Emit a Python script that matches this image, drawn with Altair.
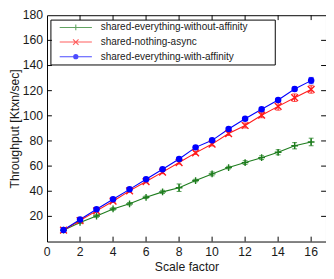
import altair as alt
import pandas as pd

series = ["shared-everything-without-affinity", "shared-nothing-async", "shared-everything-with-affinity"]
colors = ["#1e7d1e", "#ff1a1a", "#0000ff"]
scale_factor = list(range(1, 17))
without_affinity = [9, 15.2, 20.3, 25.9, 30, 35.2, 39.5, 42.8, 48.5, 53.8, 58.8, 62.8, 66.7, 71, 76.2, 79.2]
without_affinity_err = [0.5, 0.8, 1, 1, 1, 1, 1.2, 3, 1, 1.5, 1, 1.5, 1.5, 2, 2.5, 3]
nothing_async = [9, 16.7, 24.4, 32.1, 40.3, 47.7, 55.2, 62.8, 70.5, 77.5, 85.9, 92.3, 100.5, 107.5, 114.4, 121]
nothing_async_err = [1, 1, 1, 1, 1, 1, 1.2, 1.2, 1.2, 1.5, 1.5, 2, 2, 3, 3, 3]
with_affinity = [9.2, 17.5, 25.7, 33.6, 41.5, 49.5, 57.5, 65.7, 74.9, 80.5, 89.5, 97.7, 105.2, 112.6, 121.3, 128]
with_affinity_err = [0.8, 1, 1, 1, 1, 1, 1, 1, 1, 1, 1, 1, 1, 1.2, 1.5, 2.5]
x_ticks = [0, 2, 4, 6, 8, 10, 12, 14, 16]
y_ticks = [20, 40, 60, 80, 100, 120, 140, 160, 180]

rows = []
for name, vals, errs in [(series[0], without_affinity, without_affinity_err),
                         (series[1], nothing_async, nothing_async_err),
                         (series[2], with_affinity, with_affinity_err)]:
    for i, (v, e) in enumerate(zip(vals, errs)):
        rows.append({"series": name, "x": scale_factor[i], "y": v, "lo": v - e, "hi": v + e})
df = pd.DataFrame(rows)

W, H = 286, 232
FONT = "Liberation Sans"
TXT = "#1a1a1a"
FS = 12.5

xs = alt.Scale(domain=[0, 16.9], nice=False, zero=False)
ys = alt.Scale(domain=[0, 180], nice=False, zero=False)
X = alt.X("x:Q", scale=xs,
          axis=alt.Axis(title="Scale factor", labels=False, titlePadding=20))
Y = alt.Y("y:Q", scale=ys,
          axis=alt.Axis(title="Throughput [Ktxn/sec]", labels=False, titlePadding=26))

stroke_scale = alt.Scale(domain=series, range=colors)
base = alt.Chart(df)

line = base.mark_line(strokeWidth=1.1).encode(
    x=X, y=Y, stroke=alt.Stroke("series:N", scale=stroke_scale, legend=None),
    order="x:Q")
err = base.mark_rule(strokeWidth=1.1).encode(
    x=alt.X("x:Q", scale=xs), y=alt.Y("lo:Q", scale=ys), y2="hi:Q",
    stroke=alt.Stroke("series:N", scale=stroke_scale, legend=None))
cap_lo = base.mark_tick(orient="horizontal", size=5, thickness=1.1).encode(
    x=alt.X("x:Q", scale=xs), y=alt.Y("lo:Q", scale=ys),
    color=alt.Color("series:N", scale=stroke_scale, legend=None))
cap_hi = base.mark_tick(orient="horizontal", size=5, thickness=1.1).encode(
    x=alt.X("x:Q", scale=xs), y=alt.Y("hi:Q", scale=ys),
    color=alt.Color("series:N", scale=stroke_scale, legend=None))

PLUS = "M-1,0L1,0M0,-1L0,1"
CROSS = "M-1,-1L1,1M-1,1L1,-1"
marks = base.transform_filter(alt.datum.series != series[2]).mark_point(
    filled=False, strokeWidth=1.4, size=48, opacity=1).encode(
    x=alt.X("x:Q", scale=xs), y=alt.Y("y:Q", scale=ys),
    stroke=alt.Stroke("series:N", scale=stroke_scale, legend=None),
    shape=alt.Shape("series:N", scale=alt.Scale(domain=series[:2], range=[PLUS, CROSS]), legend=None))
dots = base.transform_filter(alt.datum.series == series[2]).mark_circle(size=44, opacity=1).encode(
    x=alt.X("x:Q", scale=xs), y=alt.Y("y:Q", scale=ys),
    color=alt.Color("series:N", scale=stroke_scale, legend=None))

# tick marks (inward, mirrored) and tick labels
ty = pd.DataFrame({"y": y_ticks})
tx = pd.DataFrame({"x": x_ticks})
ty_in = pd.DataFrame({"y": y_ticks[:-1]})
tx_in = pd.DataFrame({"x": x_ticks[1:]})
tick_l = alt.Chart(ty_in).mark_rule(color="black", strokeWidth=1).encode(
    y=alt.Y("y:Q", scale=ys), x=alt.value(0), x2=alt.value(5))
tick_r = alt.Chart(ty_in).mark_rule(color="black", strokeWidth=1).encode(
    y=alt.Y("y:Q", scale=ys), x=alt.value(W - 5), x2=alt.value(W))
tick_b = alt.Chart(tx_in).mark_rule(color="black", strokeWidth=1).encode(
    x=alt.X("x:Q", scale=xs), y=alt.value(H - 5), y2=alt.value(H))
tick_t = alt.Chart(tx_in).mark_rule(color="black", strokeWidth=1).encode(
    x=alt.X("x:Q", scale=xs), y=alt.value(0), y2=alt.value(5))
lab_x = alt.Chart(tx).mark_text(baseline="top", align="center", font=FONT, fontSize=FS,
                                color=TXT).encode(
    x=alt.X("x:Q", scale=xs), y=alt.value(H + 5), text=alt.Text("x:Q"))
lab_y = alt.Chart(ty).mark_text(baseline="middle", align="right", font=FONT, fontSize=FS,
                                color=TXT, dx=-4).encode(
    y=alt.Y("y:Q", scale=ys), x=alt.value(0), text=alt.Text("y:Q"))

# legend
def circ(r):
    return f"M{r},0A{r},{r} 0 1,1 -{r},0A{r},{r} 0 1,1 {r},0"
LEG_PLUS = "M-1,0L1,0M0,-0.18L0,0.18M-0.18,0L0.18,0"
LEG_CROSS = "M-1,0L1,0M-0.17,-0.17L0.17,0.17M-0.17,0.17L0.17,-0.17"
LEG_DOT = "M-1,0L1,0" + circ(0.13) + circ(0.09) + circ(0.05)
leg_box = alt.Chart(pd.DataFrame({"a": [0]})).mark_rect(
    filled=False, stroke="black", strokeWidth=1).encode(
    x=alt.value(4), x2=alt.value(234), y=alt.value(5), y2=alt.value(51))
leg_props = dict(title=None, orient="none", legendX=12, legendY=5,
                 symbolSize=1089, symbolStrokeWidth=1.1, clipHeight=15,
                 labelFontSize=10.25, labelFont=FONT, labelColor=TXT, labelLimit=400,
                 labelOffset=8, padding=0, rowPadding=0, symbolOffset=0)
legend = base.transform_filter("false").mark_point(filled=False, strokeWidth=1, size=1089).encode(
    x=alt.X("x:Q", scale=xs), y=alt.Y("y:Q", scale=ys),
    stroke=alt.Stroke("series:N", scale=alt.Scale(domain=series, range=colors),
                      legend=alt.Legend(**leg_props)),
    shape=alt.Shape("series:N", scale=alt.Scale(domain=series, range=[LEG_PLUS, LEG_CROSS, LEG_DOT]),
                    legend=alt.Legend(**leg_props)))

data_layers = alt.layer(line, err, cap_lo, cap_hi, marks, dots)
chart = alt.layer(
    data_layers, tick_l, tick_r, tick_b, tick_t, lab_x, lab_y, leg_box, legend
).resolve_scale(stroke="independent", shape="independent", color="independent").properties(
    width=W, height=H,
    autosize=alt.AutoSizeParams(type="none"),
    padding={"left": 40, "top": 4, "right": 0, "bottom": 35},
).configure_view(stroke="black", strokeWidth=1).configure_axis(
    ticks=False, domain=False, grid=False,
    titleFontSize=FS, titleFont=FONT, titleFontWeight="normal", titleColor=TXT)

chart.save("out.html", embed_options={"renderer": "svg", "actions": False})
